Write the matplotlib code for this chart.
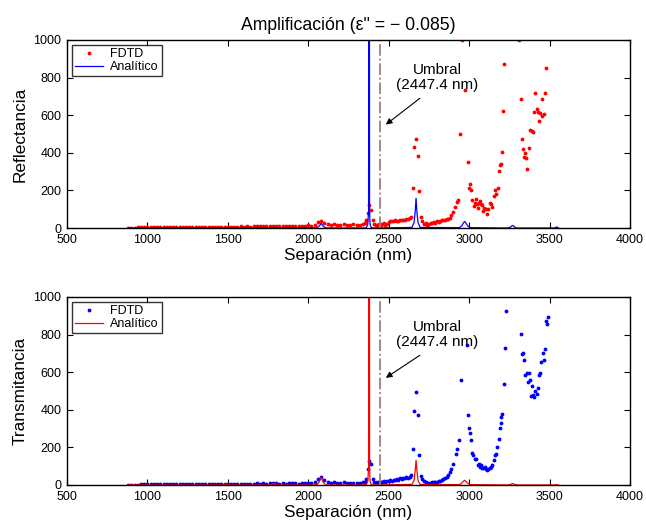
import numpy as np
import matplotlib
matplotlib.use('Agg')
import matplotlib.pyplot as plt

plt.rcParams['font.family'] = ['Liberation Sans', 'DejaVu Sans']

# FDTD samples, low separations (880 .. 2340 nm, every 20 nm)
r_low = [1, 2, 2, 3, 3, 3, 3, 4, 3, 4, 4, 4, 3, 4, 5, 4, 5, 5, 6, 5, 6, 6, 5, 6, 7, 6, 7, 6, 7, 8,
         7, 8, 8, 7, 8, 9, 8, 9, 8, 9, 10, 9, 10, 9, 12, 10, 9, 10, 11, 10, 12, 11, 10, 12, 11, 13,
         14, 13, 18, 30, 35, 25, 20, 15, 22, 15, 18, 20, 15, 18, 20, 15, 18, 22]
t_low = [1, 2, 2, 2, 3, 3, 3, 3, 3, 4, 3, 4, 4, 3, 4, 4, 5, 4, 5, 4, 5, 5, 4, 5, 6, 5, 6, 5, 6, 6,
         5, 6, 6, 5, 6, 7, 6, 7, 6, 7, 8, 7, 8, 7, 12, 10, 8, 7, 8, 7, 8, 9, 8, 7, 8, 9,
         8, 10, 15, 30, 40, 25, 15, 12, 18, 10, 12, 15, 10, 12, 10, 12, 10, 15]

# FDTD samples, 2350 .. 2880 nm, every 10 nm
r_mid = [25, 40, 80, 122, 96, 40, 20, 15, 18, 22, 15, 20, 25, 18, 22, 30, 35, 38, 35, 40, 36, 38,
         42, 40, 45, 40, 48, 50, 55, 60, 211, 433, 473, 385, 197, 60, 35, 20, 25, 18, 22, 28, 25,
         30, 28, 35, 32, 38, 42, 40, 45, 48, 50, 55]
t_mid = [15, 30, 83, 129, 112, 30, 15, 12, 15, 18, 15, 18, 20, 18, 22, 20, 25, 22, 28, 25, 30, 28,
         35, 32, 38, 35, 40, 38, 45, 51, 193, 392, 495, 374, 158, 50, 30, 20, 15, 12, 10, 12,
         15, 16, 18, 18, 20, 22, 28, 32, 38, 43, 55, 70]

# FDTD samples above 2880 nm (irregular spacing)
r_hi_x = [2890, 2900, 2912, 2927, 2933, 2944, 2958, 2974, 2991, 2999, 3003, 3011, 3020, 3028,
          3036, 3042, 3049, 3057, 3061, 3067, 3071, 3078, 3086, 3094, 3102, 3113, 3119, 3129,
          3136, 3144, 3154, 3163, 3169, 3177, 3185, 3189, 3198, 3204, 3212, 3219, 3312, 3321,
          3331, 3335, 3339, 3348, 3354, 3362, 3371, 3381, 3389, 3398, 3406, 3410, 3421, 3431,
          3435, 3441, 3450, 3456, 3464, 3471, 3477]
r_hi = [70, 85, 113, 140, 149, 500, 998, 734, 353, 214, 232, 204, 149, 119, 131, 154, 126, 106,
        131, 145, 126, 122, 90, 104, 101, 74, 101, 131, 126, 113, 172, 202, 179, 211, 303, 335,
        339, 406, 624, 874, 998, 686, 472, 418, 378, 399, 371, 312, 427, 521, 518, 512, 619, 716,
        633, 615, 567, 610, 686, 596, 605, 720, 849]
t_hi_x = [2890, 2902, 2918, 2926, 2935, 2949, 2987, 2991, 2999, 3005, 3011, 3020, 3026, 3036,
          3044, 3053, 3061, 3067, 3073, 3082, 3088, 3098, 3104, 3113, 3119, 3129, 3136, 3144,
          3152, 3161, 3167, 3175, 3183, 3190, 3196, 3198, 3204, 3214, 3221, 3227, 3320, 3327,
          3333, 3341, 3350, 3360, 3364, 3371, 3377, 3385, 3393, 3400, 3406, 3412, 3419, 3427,
          3433, 3441, 3448, 3458, 3464, 3473, 3477, 3485, 3493]
t_hi = [85, 113, 167, 193, 238, 557, 743, 374, 303, 275, 241, 168, 158, 140, 137, 105, 112, 96,
        105, 90, 90, 96, 87, 78, 87, 90, 96, 105, 131, 161, 167, 202, 246, 303, 332, 362, 379, 535,
        729, 924, 803, 698, 702, 667, 583, 596, 548, 596, 557, 473, 527, 477, 468, 498, 486, 516,
        583, 596, 654, 702, 663, 722, 872, 858, 894]

# analytic curves
an_x = [880, 1460, 1480, 1500, 1770, 1785, 1790, 1795, 1810, 2050, 2065, 2075, 2080, 2085, 2095,
        2110, 2360, 2370, 2375, 2378, 2381, 2384, 2390, 2400, 2645, 2658, 2665, 2670, 2675, 2682,
        2695, 2940, 2955, 2965, 2972, 2979, 2990, 3005, 3240, 3258, 3268, 3274, 3282, 3300, 3530,
        3545, 3555]
r_an = [0, 0, 1, 0, 0, 2, 4, 2, 0, 0, 8, 18, 25, 18, 8, 0, 0, 20, 90, 5000, 90, 20, 5, 0, 3, 30,
        90, 158, 90, 30, 3, 2, 12, 28, 35, 28, 12, 2, 0, 5, 13, 13, 5, 0, 0, 6, 0]
t_an = [0, 0, 4, 0, 0, 6, 10, 6, 0, 0, 12, 30, 40, 30, 12, 0, 0, 20, 90, 5000, 90, 20, 5, 0, 3, 25,
        80, 131, 80, 25, 3, 2, 10, 20, 25, 20, 10, 2, 0, 3, 7, 7, 3, 0, 0, 2, 0]

umbral = 2447.4
x_ticks = np.arange(500, 4001, 500)
y_ticks = np.arange(0, 1001, 200)
fd_x = list(np.arange(880, 2341, 20)) + list(np.arange(2350, 2881, 10))


def panel(ax, hi_x, fd_y, fd_color, an_y, an_color, ylabel, head_y):
	ax.plot(fd_x + hi_x, fd_y, '.', color=fd_color, markersize=3.5, label='FDTD')
	ax.plot(an_x, an_y, '-', color=an_color, lw=0.9, label='Analítico')
	ax.plot([umbral, umbral], [0, 1000], '-.', color='#9b8080', lw=1.3)
	ax.text(2800, 800, 'Umbral\n(2447.4 nm)', ha='center', va='center', fontsize=11,
	        linespacing=1.15)
	ax.annotate('', xy=(2482, head_y), xytext=(2694, 690),
	            arrowprops=dict(arrowstyle='-|>', color='k', lw=0.8, mutation_scale=9,
	                            shrinkA=0, shrinkB=0))
	ax.set_xlim(500, 4000)
	ax.set_ylim(0, 1000)
	ax.set_xticks(x_ticks)
	ax.set_yticks(y_ticks)
	ax.tick_params(direction='in', top=True, right=True, labelsize=9, length=4)
	ax.tick_params(axis='x', pad=4.5)
	ax.tick_params(axis='y', pad=4)
	ax.set_xlabel('Separación (nm)', fontsize=12.4, labelpad=1)
	ax.set_ylabel(ylabel, fontsize=12.4, labelpad=4)
	for s in ax.spines.values():
		s.set_linewidth(1.0)
	leg = ax.legend(loc='upper left', fontsize=9, frameon=True, fancybox=False,
	                borderpad=0.25, handlelength=2.2, labelspacing=0.1, borderaxespad=0.4,
	                handletextpad=0.6)
	leg.get_frame().set_edgecolor('k')
	leg.get_frame().set_linewidth(1.0)


fig = plt.figure(figsize=(6.46, 5.22), dpi=100)
ax1 = fig.add_axes([0.1037, 0.5632, 0.8715, 0.3602])
ax2 = fig.add_axes([0.1037, 0.0709, 0.8715, 0.3602])

panel(ax1, r_hi_x, r_low + r_mid + r_hi, 'r', r_an, 'b', 'Reflectancia', 550)
panel(ax2, t_hi_x, t_low + t_mid + t_hi, 'b', t_an, 'r', 'Transmitancia', 570)
ax1.set_title('Amplificación (ε" = − 0.085)', fontsize=12.7, pad=7)

fig.savefig('out.png', dpi=100)
